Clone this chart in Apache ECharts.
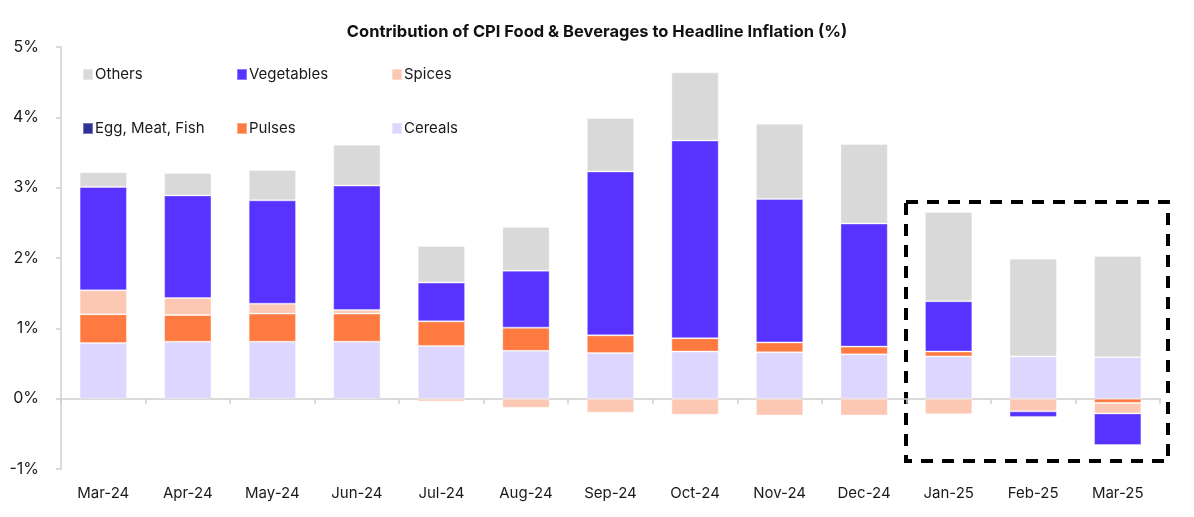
<!DOCTYPE html>
<html>
<head>
<meta charset="utf-8">
<script src="https://cdn.jsdelivr.net/npm/echarts@6/dist/echarts.min.js"></script>
<style>
html,body{margin:0;padding:0;background:#fff;}
#c{width:1194px;height:517px;}
</style>
</head>
<body>
<div id="c"></div>
<script>
const categories = ['Mar-24','Apr-24','May-24','Jun-24','Jul-24','Aug-24','Sep-24','Oct-24','Nov-24','Dec-24','Jan-25','Feb-25','Mar-25'];
const cereals    = [0.79,0.81,0.81,0.81,0.75,0.68,0.65,0.67,0.66,0.63,0.60,0.60,0.59];
const pulses     = [0.41,0.38,0.40,0.40,0.35,0.33,0.25,0.19,0.14,0.11,0.07,0.00,-0.06];
const eggMeatFish= [0,0,0,0,0,0,0,0,0,0,0,0,0];
const spices     = [0.34,0.24,0.14,0.05,-0.04,-0.13,-0.20,-0.23,-0.24,-0.24,-0.22,-0.18,-0.15];
const vegetables = [1.47,1.46,1.47,1.77,0.55,0.81,2.33,2.81,2.04,1.75,0.715,-0.08,-0.45];
const others     = [0.21,0.32,0.43,0.58,0.52,0.62,0.76,0.97,1.07,1.13,1.27,1.39,1.44];
const yTicks = [-1,0,1,2,3,4,5];

const FONT = 'Inter, "Noto Sans", sans-serif';
const colors = {
  'Cereals':'#DDD6FE',
  'Pulses':'#FF7A40',
  'Egg, Meat, Fish':'#2E3192',
  'Spices':'#FDC8B3',
  'Vegetables':'#5833FF',
  'Others':'#D9D9D9'
};
const seriesDefs = [
  ['Cereals', cereals],
  ['Pulses', pulses],
  ['Egg, Meat, Fish', eggMeatFish],
  ['Spices', spices],
  ['Vegetables', vegetables],
  ['Others', others]
];

const legendPos = [
  ['Others', 82, 67],
  ['Vegetables', 236, 67],
  ['Spices', 391, 67],
  ['Egg, Meat, Fish', 82, 121],
  ['Pulses', 236, 121],
  ['Cereals', 391, 121]
];

const chart = echarts.init(document.getElementById('c'));
chart.setOption({
  animation:false,
  backgroundColor:'#fff',
  title:{
    text:'Contribution of CPI Food & Beverages to Headline Inflation (%)',
    left:'center', top:19,
    textStyle:{fontFamily:FONT, fontSize:16.5, fontWeight:'bold', color:'#111'}
  },
  legend: legendPos.map(([n,x,y])=>({
    data:[n], left:x, top:y, icon:'rect', itemWidth:10, itemHeight:11, itemGap:4,
    padding:0, selectedMode:false,
    textStyle:{fontFamily:FONT, fontSize:15, color:'#1a1a1a', padding:[0,0,0,-3]}
  })),
  grid:{left:61, right:34, top:47, bottom:48},
  xAxis:[{
    type:'category', data:categories, position:'bottom',
    axisLine:{show:false, onZero:false}, axisTick:{show:false},
    axisLabel:{fontFamily:FONT, fontSize:15, color:'#1a1a1a', margin:17}
  },{
    type:'category', data:categories, position:'bottom',
    axisLine:{show:true, onZero:true, onZeroAxisIndex:0, lineStyle:{color:'#D0CECE', width:1.5}},
    axisTick:{show:true, length:5, lineStyle:{color:'#D0CECE', width:1.5}},
    axisLabel:{show:false}
  }],
  yAxis:{
    type:'value', min:-1, max:5, interval:1,
    axisLine:{show:true, lineStyle:{color:'#D0CECE', width:1.5}},
    axisTick:{show:true, length:5, lineStyle:{color:'#D0CECE', width:1.5}},
    splitLine:{show:false},
    axisLabel:{fontFamily:FONT, fontSize:16, color:'#1a1a1a', margin:22,
      formatter:v=> yTicks.includes(v) ? v+'%' : ''}
  },
  series: seriesDefs.map(([n,d])=>({
    name:n, type:'bar', stack:'s', data:d, xAxisIndex:0,
    barWidth:'56%',
    itemStyle:{color:colors[n], borderColor:'rgba(255,255,255,0.35)', borderWidth:1}
  })),
  graphic:[{
    type:'rect', shape:{x:906, y:202, width:262, height:259},
    style:{fill:'none', stroke:'#000', lineWidth:4, lineDash:[12,9]}
  }]
});
</script>
</body>
</html>
